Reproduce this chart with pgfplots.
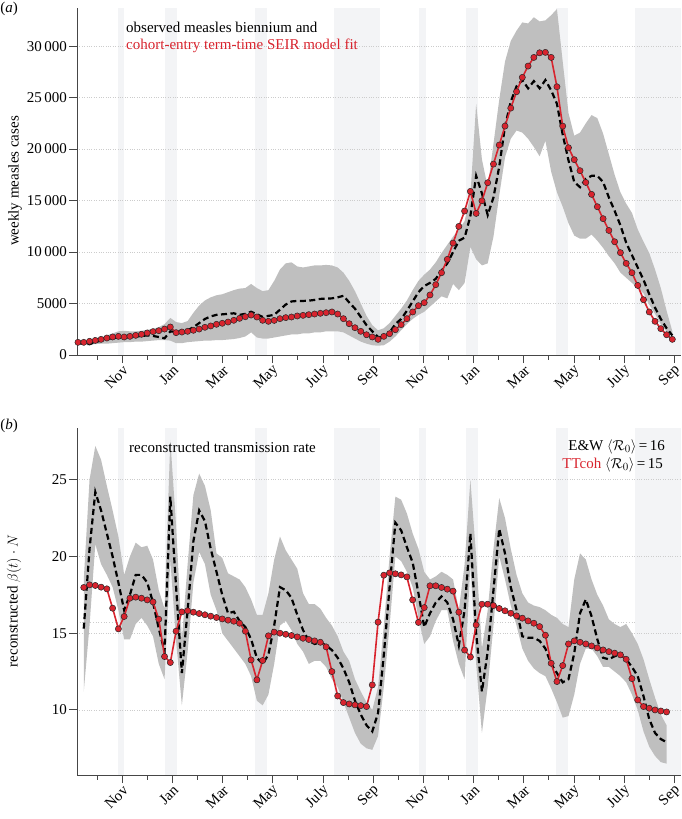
\documentclass[border=0pt]{standalone}
\usepackage{fontspec}
\setmainfont{Liberation Serif}
\usepackage{pgfplots}
\usepackage{pgfplotstable}
\pgfplotsset{compat=1.18}
\usepgfplotslibrary{fillbetween}
\definecolor{bandcol}{RGB}{243,244,246}
\definecolor{cigray}{RGB}{191,191,191}
\definecolor{fitred}{RGB}{216,36,46}
\definecolor{axcol}{RGB}{70,70,70}

\pgfplotstableread{
i red obs lo hi
0 1230 1150 1000 1350
1 1230 1100 1000 1400
2 1330 1050 1050 1450
3 1420 1250 1050 1550
4 1520 1400 1100 1700
5 1650 1550 1100 1900
6 1750 1650 1150 2100
7 1810 1700 1200 2300
8 1750 1700 1250 2350
9 1810 1750 1250 2300
10 1910 1800 1300 2300
11 2010 1850 1300 2350
12 2140 1900 1350 2450
13 2270 1850 1400 2550
14 2360 1750 1450 2700
15 2520 1620 1450 3000
16 2720 2300 1400 3600
17 2170 2250 1150 3200
18 2230 2250 1150 3100
19 2300 2400 1250 3300
20 2400 2700 1300 4100
21 2520 3100 1350 4800
22 2690 3500 1400 5300
23 2820 3750 1400 5600
24 2980 3900 1450 5800
25 3080 3950 1450 5900
26 3200 4000 1500 6100
27 3370 4050 1550 6300
28 3560 3900 1650 6450
29 3720 4000 1800 6500
30 3880 4200 2200 6900
31 3690 3950 1700 6500
32 3370 3700 1600 6200
33 3270 3800 1600 6300
34 3360 3900 1700 7200
35 3530 4400 1800 8300
36 3630 4900 1900 8900
37 3690 5200 2000 9000
38 3790 5250 2000 8600
39 3850 5250 2100 8500
40 3920 5280 2100 8600
41 3980 5350 2200 8700
42 4050 5450 2200 8700
43 4110 5480 2300 8750
44 4180 5500 2300 8700
45 3980 5600 2300 8500
46 3530 5750 2200 8000
47 3040 5100 1900 7200
48 2650 4500 1600 6200
49 2300 3700 1300 5000
50 1970 2900 1100 3800
51 1750 2300 950 2900
52 1520 1750 900 2400
53 1810 1700 950 2600
54 2070 2200 1300 3100
55 2460 3000 1800 3800
56 2950 3500 2400 4500
57 3530 4300 3000 5300
58 4180 5200 3500 6300
59 4790 6100 3900 7200
60 5080 6700 4200 7800
61 5830 7000 4700 8300
62 6830 7400 5200 9000
63 7990 8200 5700 9900
64 9290 8900 5500 10700
65 10870 10000 6900 11500
66 12490 11100 6300 12200
67 13980 11400 7000 13000
68 15890 13500 10500 15500
69 13750 17400 9300 24400
70 14980 15700 8700 19000
71 16730 13600 8900 16300
72 18540 15300 11500 20500
73 20390 18300 15500 24800
74 22230 22200 19200 28500
75 23980 24600 21000 30500
76 25570 26100 21800 31500
77 26960 26700 21600 32300
78 28060 25900 21000 32200
79 28900 26600 20200 32800
80 29350 25900 19300 32400
81 29390 26700 20800 32500
82 28900 25700 17800 33000
83 26050 24400 15800 33600
84 22230 21400 14400 28500
85 20130 18900 12800 23500
86 18970 16800 11600 21300
87 17900 16300 11300 21600
88 16760 17100 11300 22500
89 15600 17400 11700 23300
90 14400 17400 11100 23000
91 13240 16800 10400 21500
92 12100 15300 9600 19500
93 11000 14000 8900 17500
94 9940 12600 8000 15800
95 8900 10900 7500 14700
96 7990 9700 7000 13800
97 6760 8500 6500 12200
98 5370 7300 6000 11000
99 4180 5900 4900 9900
100 3270 4600 4000 8300
101 2560 3500 3000 6500
102 1970 2600 2300 4300
103 1520 1900 1800 2300
}\toptab

\pgfplotstableread{
i red obs lo hi
1 17.98 15.3 11.2 18.5
2 18.15 20.5 15.5 25.0
3 18.11 24.2 20.8 27.2
4 18.00 23.0 19.5 26.3
5 17.89 21.5 18.8 24.6
6 16.63 20.0 18.0 23.0
7 15.28 18.3 16.5 21.3
8 16.09 16.5 14.6 18.8
9 17.28 17.5 14.6 20.0
10 17.35 18.8 15.6 20.9
11 17.28 18.8 16.0 20.6
12 17.17 18.3 15.5 20.7
13 17.04 17.0 14.8 19.8
14 15.91 15.3 13.0 17.8
15 13.48 13.8 12.0 16.6
16 13.09 23.9 19.8 27.6
17 15.13 18.0 14.5 22.0
18 16.39 12.4 10.3 14.6
19 16.46 16.5 13.8 19.5
20 16.37 21.0 18.3 24.0
21 16.28 23.0 20.3 25.4
22 16.20 22.3 19.5 24.6
23 16.11 20.5 17.5 23.0
24 16.02 19.0 16.5 20.2
25 15.93 17.5 15.0 19.9
26 15.85 16.3 14.5 18.9
27 15.78 16.4 14.0 18.7
28 15.65 15.8 13.5 18.5
29 15.13 15.4 13.0 18.0
30 13.26 14.6 12.2 17.2
31 11.96 13.4 10.6 16.2
32 13.22 13.0 10.3 16.2
33 14.83 13.6 11.0 17.6
34 15.07 15.5 13.0 19.8
35 15.00 18.0 15.5 21.3
36 14.93 17.8 15.8 20.4
37 14.85 17.3 15.2 19.8
38 14.76 16.2 14.3 19.2
39 14.67 15.2 13.8 17.6
40 14.59 14.5 13.0 16.9
41 14.50 14.3 13.2 16.9
42 14.41 14.4 13.2 16.6
43 14.11 14.2 12.8 16.0
44 12.50 13.9 12.0 15.5
45 10.91 13.4 11.5 14.8
46 10.48 12.7 10.5 13.8
47 10.39 11.8 9.5 13.2
48 10.33 10.6 8.5 12.0
49 10.28 9.7 7.8 11.2
50 10.22 9.0 7.5 10.5
51 11.63 8.6 7.4 10.0
52 15.72 9.8 8.3 11.5
53 18.78 13.6 11.5 15.5
54 18.93 18.0 15.5 20.0
55 18.87 22.2 20.0 23.9
56 18.80 21.7 19.7 23.7
57 18.67 20.6 19.0 22.8
58 17.17 19.6 18.0 21.5
59 15.70 17.6 16.0 20.5
60 16.67 15.4 14.3 19.0
61 18.09 16.3 14.8 18.5
62 18.09 17.0 15.8 18.7
63 17.98 17.4 16.5 19.0
64 17.87 17.0 16.5 18.8
65 17.74 15.9 14.5 18.5
66 16.37 14.2 13.0 16.5
67 13.90 16.5 12.0 19.5
68 13.45 21.5 19.5 25.0
69 15.54 15.0 13.0 20.0
70 16.89 11.2 8.5 14.0
71 16.89 13.8 11.5 16.5
72 16.80 17.8 15.5 20.5
73 16.61 21.8 20.0 23.8
74 16.46 20.2 18.5 22.5
75 16.30 18.0 16.8 20.5
76 16.13 16.5 15.5 18.8
77 15.98 14.8 14.0 17.6
78 15.80 14.7 13.2 17.0
79 15.65 14.7 12.7 16.8
80 15.43 14.5 12.4 16.7
81 14.87 14.0 12.2 16.5
82 13.04 13.0 11.4 16.2
83 11.85 12.4 10.5 16.0
84 12.89 11.8 9.5 15.6
85 14.30 12.0 9.6 15.4
86 14.50 13.7 11.0 18.5
87 14.41 16.3 13.0 20.2
88 14.30 17.2 14.0 19.8
89 14.17 16.1 14.0 18.5
90 14.04 14.6 13.5 17.5
91 13.91 13.4 12.8 16.8
92 13.80 13.3 12.8 15.9
93 13.70 13.5 12.5 15.6
94 13.59 13.6 12.2 15.4
95 13.30 13.3 11.8 15.6
96 12.04 12.8 11.0 15.0
97 10.65 12.2 10.0 14.3
98 10.22 10.9 8.6 13.3
99 10.11 9.4 7.6 12.0
100 10.00 8.5 7.0 10.8
101 9.93 8.1 6.6 9.7
102 9.87 7.9 6.5 9.0
}\bottab

\newcommand{\hband}[4]{\addplot[on layer=axis background, fill=bandcol, draw=none, forget plot] coordinates {(#1,#3) (#2,#3) (#2,#4) (#1,#4)} -- cycle;}
\newcommand{\allbands}[2]{%
\hband{7.0}{8.0}{#1}{#2}
\hband{15.0}{17.2}{#1}{#2}
\hband{30.6}{32.8}{#1}{#2}
\hband{44.4}{52.3}{#1}{#2}
\hband{59.1}{60.3}{#1}{#2}
\hband{67.2}{69.4}{#1}{#2}
\hband{82.8}{85.0}{#1}{#2}
\hband{96.5}{104.5}{#1}{#2}}

\pgfplotsset{
  myaxis/.style={
    set layers,
    scale only axis, width=604bp, height=347bp,
    anchor=south west,
    xmin=-0.173, xmax=104.5,
    axis lines*=left, axis line style={-, axcol, line width=1bp},
    tick style={axcol, line width=0.9bp},
    tick align=outside,
    major tick length=8bp, minor tick length=4.5bp,
    xtick={7.65,16.35,25.05,33.75,42.45,51.15,59.85,68.55,77.25,85.95,94.65,103.35},
    xticklabels={Nov,Jan,Mar,May,July,Sep,Nov,Jan,Mar,May,July,Sep},
    minor xtick={3.3,12,20.7,29.4,38.1,46.8,55.5,64.2,72.9,81.6,90.3,99},
    xticklabel style={rotate=45, anchor=east, inner sep=1bp, yshift=-6bp},
    yticklabel style={inner sep=2bp},
    ymajorgrids, grid style={dotted, gray!40, line width=0.7bp},
  },
  fitline/.style={fitred, line width=1.6bp, mark=*, mark size=3.1bp,
    mark options={solid, fill=fitred, draw=black!85, line width=0.5bp}},
  obsline/.style={black, line width=2.2bp, dash pattern=on 6bp off 3.5bp},
}

\begin{document}
\begin{tikzpicture}[font=\fontsize{15bp}{18bp}\selectfont]

\begin{axis}[myaxis, at={(77bp,-355bp)},
  ymin=0, ymax=33700,
  ytick={0,5000,10000,15000,20000,25000,30000},
  yticklabels={0,5000,10\,000,15\,000,20\,000,25\,000,30\,000}]
\allbands{0}{33700}
\addplot[name path=tophi, draw=none, forget plot] table[x=i,y=hi]{\toptab};
\addplot[name path=toplo, draw=none, forget plot] table[x=i,y=lo]{\toptab};
\addplot[cigray, draw=none] fill between[of=tophi and toplo];
\addplot[obsline] table[x=i,y=obs]{\toptab};
\addplot[fitline] table[x=i,y=red]{\toptab};
\end{axis}

\begin{axis}[myaxis, at={(77bp,-775bp)},
  ymin=5.76, ymax=28.37,
  ytick={10,15,20,25},
  yticklabels={10,15,20,25}]
\allbands{5.76}{28.37}
\addplot[on layer=axis grid, dotted, gray!40, line width=0.7bp] coordinates {(-0.2,15.72) (96.5,15.72)};
\addplot[name path=bothi, draw=none, forget plot] table[x=i,y=hi]{\bottab};
\addplot[name path=botlo, draw=none, forget plot] table[x=i,y=lo]{\bottab};
\addplot[cigray, draw=none] fill between[of=bothi and botlo];
\addplot[obsline] table[x=i,y=obs]{\bottab};
\addplot[fitline] table[x=i,y=red]{\bottab};
\end{axis}

\node at (9bp,-9bp) {(\textit{a})};
\node at (9bp,-426bp) {(\textit{b})};
\node[rotate=90] at (15bp,-181bp) {weekly measles cases};
\node[rotate=90] at (14bp,-601bp) {reconstructed $\beta(t)\cdot N$};
\node[anchor=base west, inner sep=0pt] at (126bp,-32.5bp) {observed measles biennium and};
\node[anchor=base west, inner sep=0pt, text=fitred] at (126bp,-49.5bp) {cohort-entry term-time SEIR model fit};
\node[anchor=base west, inner sep=0pt] at (129bp,-452bp) {reconstructed transmission rate};
\node[anchor=base east, inner sep=0pt] at (665bp,-450bp) {E\&W $\langle\mathcal{R}_0\rangle$\,=\,16};
\node[anchor=base east, inner sep=0pt] at (663bp,-468bp) {\textcolor{fitred}{TTcoh} $\langle\mathcal{R}_0\rangle$\,=\,15};
\pgfresetboundingbox
\path[use as bounding box] (0,0) rectangle (682bp,-819bp);
\end{tikzpicture}
\end{document}
